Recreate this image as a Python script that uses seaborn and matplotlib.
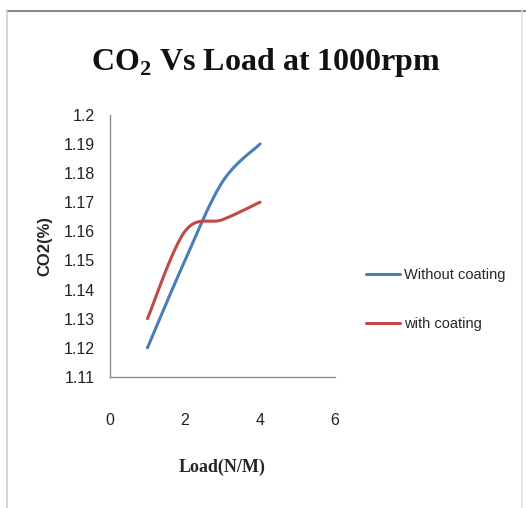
import numpy as np
import pandas as pd
import matplotlib
matplotlib.use("Agg")
import matplotlib.pyplot as plt
import seaborn as sns

load = [1, 2, 3, 4]
without_coating = [1.12, 1.15, 1.177, 1.19]
with_coating = [1.13, 1.16, 1.164, 1.17]
series_names = ["Without coating", "with coating"]
colors = ["#4A7EBB", "#BE4B48"]
x_ticks = [0, 2, 4, 6]
y_ticks = [1.11, 1.12, 1.13, 1.14, 1.15, 1.16, 1.17, 1.18, 1.19, 1.2]


def smooth(xs, ys, n=40):
    """Excel-like smoothed line (Catmull-Rom Bezier) through the data points."""
    P = np.column_stack([np.asarray(xs, float), np.asarray(ys, float)])
    out = []
    for i in range(len(P) - 1):
        p0 = P[i - 1] if i > 0 else P[i]
        p1 = P[i]
        p2 = P[i + 1]
        p3 = P[i + 2] if i + 2 < len(P) else P[i + 1]
        c1 = p1 + (p2 - p0) / 6
        c2 = p2 - (p3 - p1) / 6
        t = np.linspace(0, 1, n, endpoint=(i == len(P) - 2))[:, None]
        b = ((1 - t) ** 3) * p1 + 3 * ((1 - t) ** 2) * t * c1 + 3 * (1 - t) * t ** 2 * c2 + t ** 3 * p2
        out.append(b)
    out = np.vstack(out)
    return out[:, 0], out[:, 1]


sns.set_theme(style="white")
plt.rcParams["mathtext.fontset"] = "custom"
plt.rcParams["mathtext.bf"] = "Liberation Serif:bold"
plt.rcParams["mathtext.rm"] = "Liberation Serif:bold"

fig = plt.figure(figsize=(5.26, 5.08), dpi=100)
ax = fig.add_axes([0.209, 0.258, 0.428, 0.516])

for name, vals, c in zip(series_names, [without_coating, with_coating], colors):
    sx, sy = smooth(load, vals)
    sns.lineplot(x=sx, y=sy, color=c, lw=2.2, sort=False, estimator=None, ax=ax, label=name)

ax.set_xlim(0, 6)
ax.set_ylim(1.11, 1.2)
ax.set_xticks(x_ticks)
ax.set_yticks(y_ticks)
tick_font = ["Liberation Sans", "DejaVu Sans"]
ax.set_xticklabels([str(v) for v in x_ticks], family=tick_font, fontsize=11.5, color="#222222")
ax.set_yticklabels([f"{v:g}" for v in y_ticks], family=tick_font, fontsize=11.5, color="#222222")
ax.tick_params(axis="x", length=0, pad=26)
ax.tick_params(axis="y", length=0, pad=11)
for s in ["top", "right"]:
    ax.spines[s].set_visible(False)
for s in ["left", "bottom"]:
    ax.spines[s].set_color("#8C8C8C")
    ax.spines[s].set_linewidth(1.0)
ax.grid(False)
ax.set_xlabel("Load(N/M)", family=["Liberation Serif", "DejaVu Serif"], fontweight="bold",
              fontsize=13, labelpad=22)
ax.set_ylabel("CO2(%)", family=["Liberation Sans", "DejaVu Sans"], fontweight="bold",
              fontsize=12, labelpad=8)

ax.legend(loc="center left", bbox_to_anchor=(1.08, 0.296), frameon=False,
          prop={"family": tick_font, "size": 10.5}, handlelength=2.3,
          handletextpad=0.3, labelspacing=2.4)

fig.text(0.505, 0.876, r"CO$_\mathbf{2}$ Vs Load at 1000rpm", ha="center", va="center",
         family=["Liberation Serif", "DejaVu Serif"], fontweight="bold", fontsize=23,
         color="#111111")

# chart frame lines
fig.add_artist(plt.Line2D([0.013, 1.0], [1 - 11 / 508, 1 - 11 / 508], color="#8a8a8a", lw=1.5,
                          transform=fig.transFigure))
fig.add_artist(plt.Line2D([7 / 526, 7 / 526], [0, 1 - 11 / 508], color="#d0d0d0", lw=1.2,
                          transform=fig.transFigure))
fig.add_artist(plt.Line2D([522 / 526, 522 / 526], [0, 1 - 11 / 508], color="#e0e0e0", lw=1.2,
                          transform=fig.transFigure))

fig.savefig("out.png", dpi=100)
